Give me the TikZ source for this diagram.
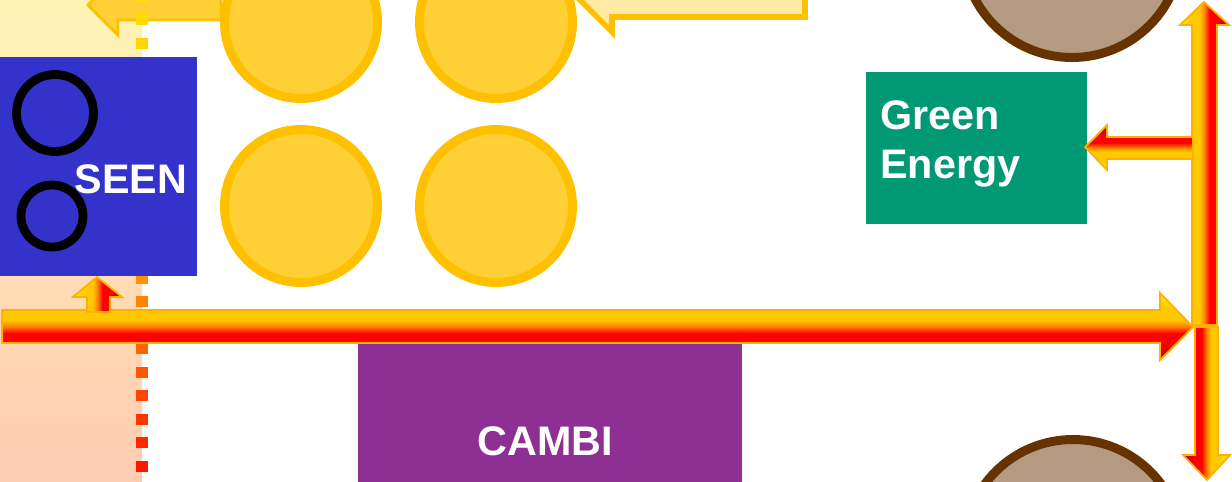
\documentclass[tikz,border=0pt]{standalone}
\usepackage{fontspec}
\setmainfont{Liberation Sans}
\usetikzlibrary{calc}
\definecolor{colyellow}{HTML}{FFF4B4}
\definecolor{colpeach}{HTML}{FFCBB3}
\definecolor{seenblue}{HTML}{3333CC}
\definecolor{sunfill}{HTML}{FFD035}
\definecolor{sunline}{HTML}{FFC000}
\definecolor{notefill}{HTML}{FFEAA6}
\definecolor{stonefill}{HTML}{B39A80}
\definecolor{stoneline}{HTML}{663300}
\definecolor{greenbox}{HTML}{009973}
\definecolor{cambipurple}{HTML}{8E3093}
\definecolor{heatlight}{HTML}{FFF000}
\definecolor{heatyellow}{HTML}{FFC800}
\definecolor{heatorange}{HTML}{FF8000}
\definecolor{heatred}{HTML}{FF0000}
\definecolor{heatdark}{HTML}{A00000}
\definecolor{heatedge}{HTML}{FFB000}
\definecolor{dotyellow}{HTML}{FFE000}
\definecolor{dotorange}{HTML}{FF8C00}
\definecolor{dotred}{HTML}{FF1000}
\pgfdeclareverticalshading{heatv}{100bp}{color(0bp)=(heatdark); color(25bp)=(heatdark);
    color(37bp)=(heatred); color(45bp)=(heatred); color(50bp)=(heatorange);
    color(55bp)=(heatyellow); color(63bp)=(heatyellow); color(75bp)=(heatlight); color(100bp)=(heatlight)}

\begin{document}
\begin{tikzpicture}[x=0.02cm, y=-0.02cm,
    lbl/.style={text=white, font=\bfseries\fontsize{23.5}{27.5}\selectfont, inner sep=0pt},
    sun/.style={fill=sunfill, draw=sunline, line width=5.1pt},
    stone/.style={fill=stonefill, draw=stoneline, line width=5.1pt},
    ring/.style={draw=black, line width=5pt},
    heat/.style={draw=heatedge, line width=1pt, shading=heatv}]
    \clip (0,0) rectangle (1232,481);
    % left column and feed arrow
    \shade[top color=colyellow, bottom color=colpeach] (0,0) rectangle (142,481);
    \filldraw[fill=sunfill, draw=sunline, line width=1.7pt]
        (221,-10) -- (118,-10) -- (118,-25) -- (88,5) -- (118,35) -- (118,20) -- (221,20) -- cycle;
    \foreach \k in {0,...,20}{
        \pgfmathsetmacro\ya{23.5*\k-9.5}
        \pgfmathtruncatemacro\pu{min(100,max(0,\ya/2.8))}
        \pgfmathtruncatemacro\pl{min(100,max(0,(\ya-280)/1.9))}
        \colorlet{dotc}{dotorange!\pu!dotyellow}
        \ifnum\pl>0 \colorlet{dotc}{dotred!\pl!dotorange}\fi
        \fill[dotc] (136,\ya) rectangle (148,\ya+11);
    }
    % SEEN
    \fill[seenblue] (0,57) rectangle (197,276);
    \draw[ring] (55,113) circle (38.5);
    \draw[ring] (52,216) circle (31);
    \node[lbl, anchor=base] (seen) at (131,193) {SEEN};
    % digesters
    \coordinate (S1) at (301,22);
    \coordinate (S2) at (496,22);
    \coordinate (S3) at (301,206);
    \coordinate (S4) at (496,206);
    \foreach \s in {S1,S2,S3,S4}
        \draw[sun] (\s) circle (76.5);
    \filldraw[fill=notefill, draw=sunline, line width=3.2pt]
        (805,-19) -- (805,17) -- (612,17) -- (612,32) -- (580,0) -- (612,-32) -- (612,-17) -- cycle;
    % tanks
    \draw[stone] (1072,-52) circle (109.5);
    \draw[stone] (1073,549) circle (109.5);
    % Green Energy
    \fill[greenbox] (866,72) rectangle (1087,224);
    \node[lbl, align=left, anchor=base west] (green) at (880,178) {Green\\Energy};
    % CAMBI
    \fill[cambipurple] (358,343) rectangle (742,490);
    \node[lbl, anchor=base] (cambi) at (545.5,455) {CAMBI};
    % heat arrows
    \shadedraw[heat]
        (2,310) -- (1160,310) -- (1160,293) -- (1193,327) -- (1160,360) -- (1160,343) -- (2,343) -- cycle;
    \shadedraw[heat, shading angle=90]
        (87,312) -- (87,297) -- (73,297) -- (97,277) -- (122,297) -- (110,297) -- (110,312) -- cycle;
    \shadedraw[heat, shading angle=90]
        (1192,325) -- (1192,25) -- (1180,25) -- (1204,2) -- (1229,25) -- (1217,25) -- (1217,325) -- cycle;
    \shadedraw[heat, shading angle=-90]
        (1195,327) -- (1218,327) -- (1218,455) -- (1230,455) -- (1207,480) -- (1183,455) -- (1195,455) -- cycle;
    \shadedraw[heat, shading angle=180]
        (1193,137) -- (1107,137) -- (1107,125) -- (1085,147) -- (1107,170) -- (1107,159) -- (1193,159) -- cycle;
\end{tikzpicture}
\end{document}
